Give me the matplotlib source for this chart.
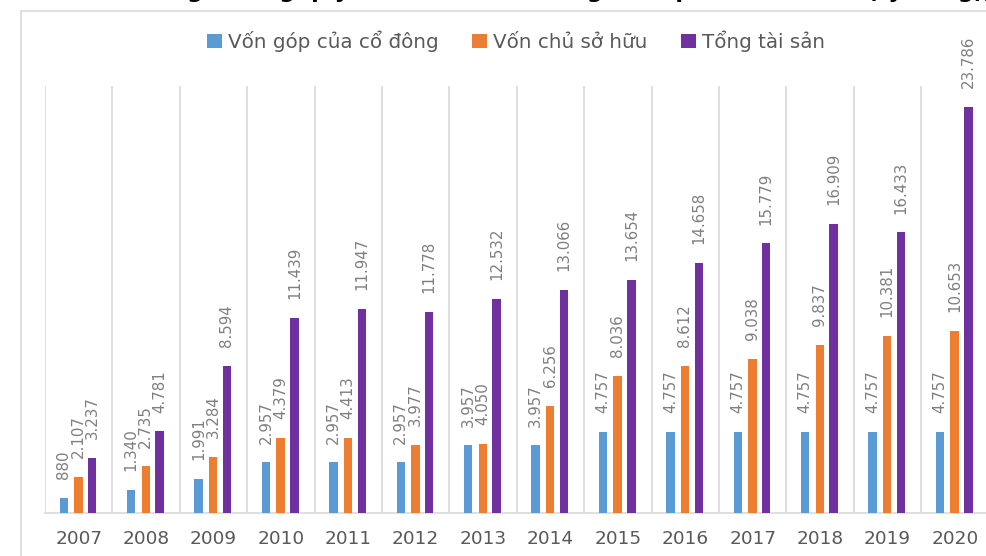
"""Grouped bar chart: shareholder capital, equity and total assets 2007-2020."""

import matplotlib

matplotlib.use("Agg")
import matplotlib.pyplot as plt
from matplotlib.patches import Patch, Rectangle
import numpy as np

years = ["2007", "2008", "2009", "2010", "2011", "2012", "2013",
         "2014", "2015", "2016", "2017", "2018", "2019", "2020"]
von_gop = [880, 1340, 1991, 2957, 2957, 2957, 3957,
           3957, 4757, 4757, 4757, 4757, 4757, 4757]
von_chu_so_huu = [2107, 2735, 3284, 4379, 4413, 3977, 4050,
                  6256, 8036, 8612, 9038, 9837, 10381, 10653]
tong_tai_san = [3237, 4781, 8594, 11439, 11947, 11778, 12532,
                13066, 13654, 14658, 15779, 16909, 16433, 23786]

series_names = ["Vốn góp của cổ đông", "Vốn chủ sở hữu", "Tổng tài sản"]
COLORS = ["#5B9BD5", "#ED7D31", "#7030A0"]
GRID = "#d9d9d9"
W, H = 986, 556


def fmt(v):
    # Vietnamese thousands separator
    return f"{v:,}".replace(",", ".")


fig = plt.figure(figsize=(W / 100, H / 100), dpi=100)
plt.rcParams["font.family"] = ["DejaVu Sans"]

# outer chart frame (right/bottom edges fall outside the picture)
fig.patches.append(Rectangle((21 / W, -0.2), 2.0, 1.2 - 11 / H,
                             transform=fig.transFigure, fill=False,
                             edgecolor=GRID, lw=1.2, clip_on=False))

# title, cropped off at the top edge in the source screenshot
fig.text(0.575, 1 + 2 / H, "Tăng trưởng quy mô vốn và tài sản giai đoạn 2007 - 2020 (tỷ đồng),",
         ha="center", va="baseline", fontsize=16, fontweight="bold", color="black")

ax = fig.add_axes([45 / W, (H - 513) / H, 943.6 / W, 427 / H])

x = np.arange(len(years))
offsets = [-0.22, -0.005, 0.2]
width = 0.125
for vals, off, color in zip([von_gop, von_chu_so_huu, tong_tai_san], offsets, COLORS):
    ax.bar(x + off, vals, width=width, color=color, zorder=3)
    for xi, v in zip(x, vals):
        ax.annotate(fmt(v), (xi + off, v), xytext=(0, 13.5), textcoords="offset points",
                    rotation=90, ha="center", va="bottom", fontsize=10.8,
                    color="#7f7f7f", annotation_clip=False)

ax.set_xlim(-0.5, len(years) - 0.5)
ax.set_ylim(0, 25000)
ax.set_xticks(x)
ax.set_xticklabels(years, fontsize=13.3, color="#595959")
ax.set_xticks(np.arange(len(years) + 1) - 0.5, minor=True)
ax.tick_params(axis="x", which="both", length=0, pad=12)
ax.set_yticks([])
ax.grid(axis="x", which="minor", color=GRID, lw=1.2, zorder=0)
for side in ["left", "right", "top"]:
    ax.spines[side].set_visible(False)
ax.spines["bottom"].set_color(GRID)
ax.spines["bottom"].set_linewidth(1.2)

handles = [Patch(facecolor=c) for c in COLORS]
fig.legend(handles, series_names, loc="center", bbox_to_anchor=(0.523, 1 - 41 / H),
           ncol=3, frameon=False, fontsize=14.3, labelcolor="#595959",
           handlelength=0.75, handleheight=0.75, handletextpad=0.3, columnspacing=1.7)

fig.savefig("out.png", dpi=100)
